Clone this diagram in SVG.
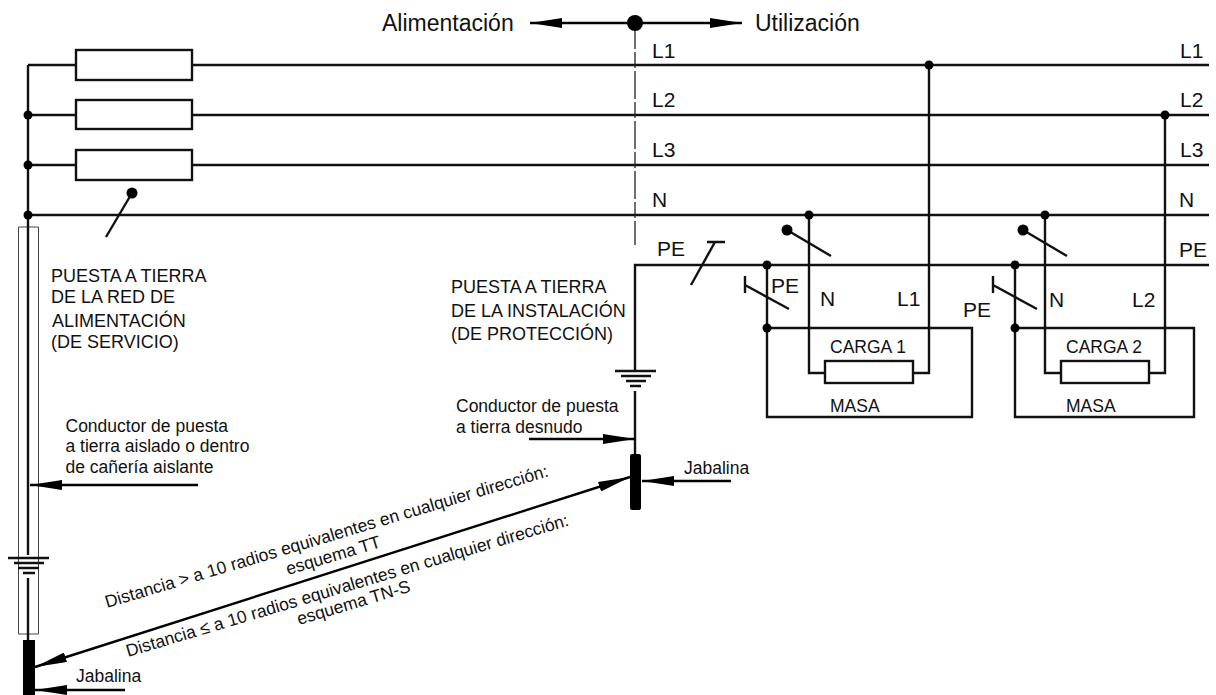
<svg xmlns="http://www.w3.org/2000/svg" width="1216" height="695" viewBox="0 0 1216 695">
<style>
text{font-family:"Liberation Sans",Arial,sans-serif;fill:#111}
.h{font-size:23px}.big{font-size:21px}.sm{font-size:17.500px}.cap{font-size:18px}
.w{fill:none;stroke:#111;stroke-width:2.400;stroke-linejoin:miter}
.box{fill:#fff;stroke:#111;stroke-width:2.400}
.thin{fill:none;stroke:#444;stroke-width:1}
.dash{fill:none;stroke:#222;stroke-width:1.300;stroke-dasharray:28 3 16 3}
.a{fill:none;stroke:#000;stroke-width:2.400}
.f{fill:#000}
</style>
<defs>
<marker id="ah" viewBox="0 0 32 10" refX="32" refY="5" markerWidth="32" markerHeight="10" markerUnits="userSpaceOnUse" orient="auto-start-reverse"><path d="M0 0L32 5L0 10Z"/></marker>
</defs>
<rect width="1216" height="695" fill="#fff"/>
<g id="connectors">
<path class="thin" d="M18.500 227H38.500V634H18.500Z"/>
<path class="w" d="M28 65V555M28 65H1209M28 115H1209M28 165H1209M28 215H1209"/>
<path class="w" d="M635 455V391M635 371V265H1209"/>
<path class="w" d="M28 578V640"/>
<path class="dash" d="M635 21V245"/>
<path class="a" marker-start="url(#ah)" marker-end="url(#ah)" d="M530 23H742"/>
<path class="w" d="M929 65V373H913M809 215V373H825"/>
<path class="w" d="M1165 115V373H1149M1045 215V373H1061"/>
<path class="w" d="M767 265V417H972V328H767"/>
<path class="w" d="M1015 265V417H1194V328H1015"/>
<path class="w" d="M106 237L132 193"/>
<path class="w" d="M691 285L715 242M707 242H725"/>
<path class="w" d="M787 230L831 256M1023 230L1067 256"/>
<path class="w" d="M745 285L789 309M745 276V293M993 285L1037 309M993 276V293"/>
<path class="a" marker-end="url(#ah)" d="M198 485H30"/>
<path class="a" marker-end="url(#ah)" d="M529 439H635"/>
<path class="a" marker-end="url(#ah)" d="M731 481H642"/>
<path class="a" marker-end="url(#ah)" d="M125 690H35"/>
<path class="a" marker-start="url(#ah)" marker-end="url(#ah)" d="M35 667L630 477"/>
</g>
<g id="node-dot-top"><circle class="f" cx="635" cy="23" r="8"/></g>
<g id="node-dots" class="f">
<circle cx="28" cy="115" r="4.500"/><circle cx="28" cy="165" r="4.500"/><circle cx="28" cy="215" r="4.500"/>
<circle cx="929" cy="65" r="4.500"/><circle cx="1165" cy="115" r="4.500"/>
<circle cx="809" cy="215" r="4.500"/><circle cx="1045" cy="215" r="4.500"/>
<circle cx="767" cy="265" r="4.500"/><circle cx="1015" cy="265" r="4.500"/>
<circle cx="767" cy="328" r="4.500"/><circle cx="1015" cy="328" r="4.500"/>
<circle cx="132" cy="193" r="5.500"/><circle cx="787" cy="230" r="5.500"/><circle cx="1023" cy="230" r="5.500"/>
</g>
<g id="fuse-1"><rect class="box" x="76" y="50" width="116" height="30"/></g>
<g id="fuse-2"><rect class="box" x="76" y="100" width="116" height="29"/></g>
<g id="fuse-3"><rect class="box" x="76" y="150" width="116" height="30"/></g>
<g id="carga-1"><rect class="box" x="825" y="361" width="88" height="22"/><text class="sm" x="830" y="353">CARGA 1</text><text class="sm" x="830" y="412">MASA</text></g>
<g id="carga-2"><rect class="box" x="1061" y="361" width="88" height="22"/><text class="sm" x="1066" y="353">CARGA 2</text><text class="sm" x="1066" y="412">MASA</text></g>
<g id="ground-1"><path class="w" d="M8 558H49M14 563H44M18 568H39M23 573H35"/><path class="f" d="M23 640H35V695H23Z"/></g>
<g id="ground-2"><path class="w" d="M615 371H656M621 376H651M626 381H646M630 386H641"/><rect class="f" x="630" y="454" width="11" height="56" rx="2"/></g>
<g id="labels">
<text class="h" x="382" y="31">Alimentación</text>
<text class="h" x="755" y="31">Utilización</text>
<text class="big" x="652" y="58">L1</text><text class="big" x="1180" y="58">L1</text>
<text class="big" x="652" y="107">L2</text><text class="big" x="1180" y="107">L2</text>
<text class="big" x="652" y="157">L3</text><text class="big" x="1180" y="157">L3</text>
<text class="big" x="652" y="207">N</text><text class="big" x="1179" y="207">N</text>
<text class="big" x="657" y="256">PE</text><text class="big" x="1179" y="257">PE</text>
<text class="big" x="771" y="293">PE</text><text class="big" x="820" y="306">N</text><text class="big" x="897" y="306">L1</text>
<text class="big" x="963" y="317">PE</text><text class="big" x="1049" y="307">N</text><text class="big" x="1132" y="307">L2</text>
<text class="cap" x="51" y="282">PUESTA A TIERRA</text>
<text class="cap" x="51" y="303">DE LA RED DE</text>
<text class="cap" x="52" y="327">ALIMENTACIÓN</text>
<text class="cap" x="51" y="348">(DE SERVICIO)</text>
<text class="cap" x="451" y="293">PUESTA A TIERRA</text>
<text class="cap" x="451" y="317">DE LA INSTALACIÓN</text>
<text class="cap" x="451" y="340">(DE PROTECCIÓN)</text>
<text class="sm" x="65.500" y="432">Conductor de puesta</text>
<text class="sm" x="65.500" y="452">a tierra aislado o dentro</text>
<text class="sm" x="65.500" y="473">de cañería aislante</text>
<text class="sm" x="456" y="412">Conductor de puesta</text>
<text class="sm" x="456" y="433">a tierra desnudo</text>
<text class="sm" x="684" y="474">Jabalina</text>
<text class="sm" x="76" y="682">Jabalina</text>
<text class="sm" transform="translate(107 608) rotate(-16.600)">Distancia &gt; a 10 radios equivalentes en cualquier dirección:</text>
<text class="sm" transform="translate(288 575) rotate(-16.600)">esquema TT</text>
<text class="sm" transform="translate(128 657) rotate(-16.600)">Distancia ≤ a 10 radios equivalentes en cualquier dirección:</text>
<text class="sm" transform="translate(299 625) rotate(-16.600)">esquema TN-S</text>
</g>
</svg>
